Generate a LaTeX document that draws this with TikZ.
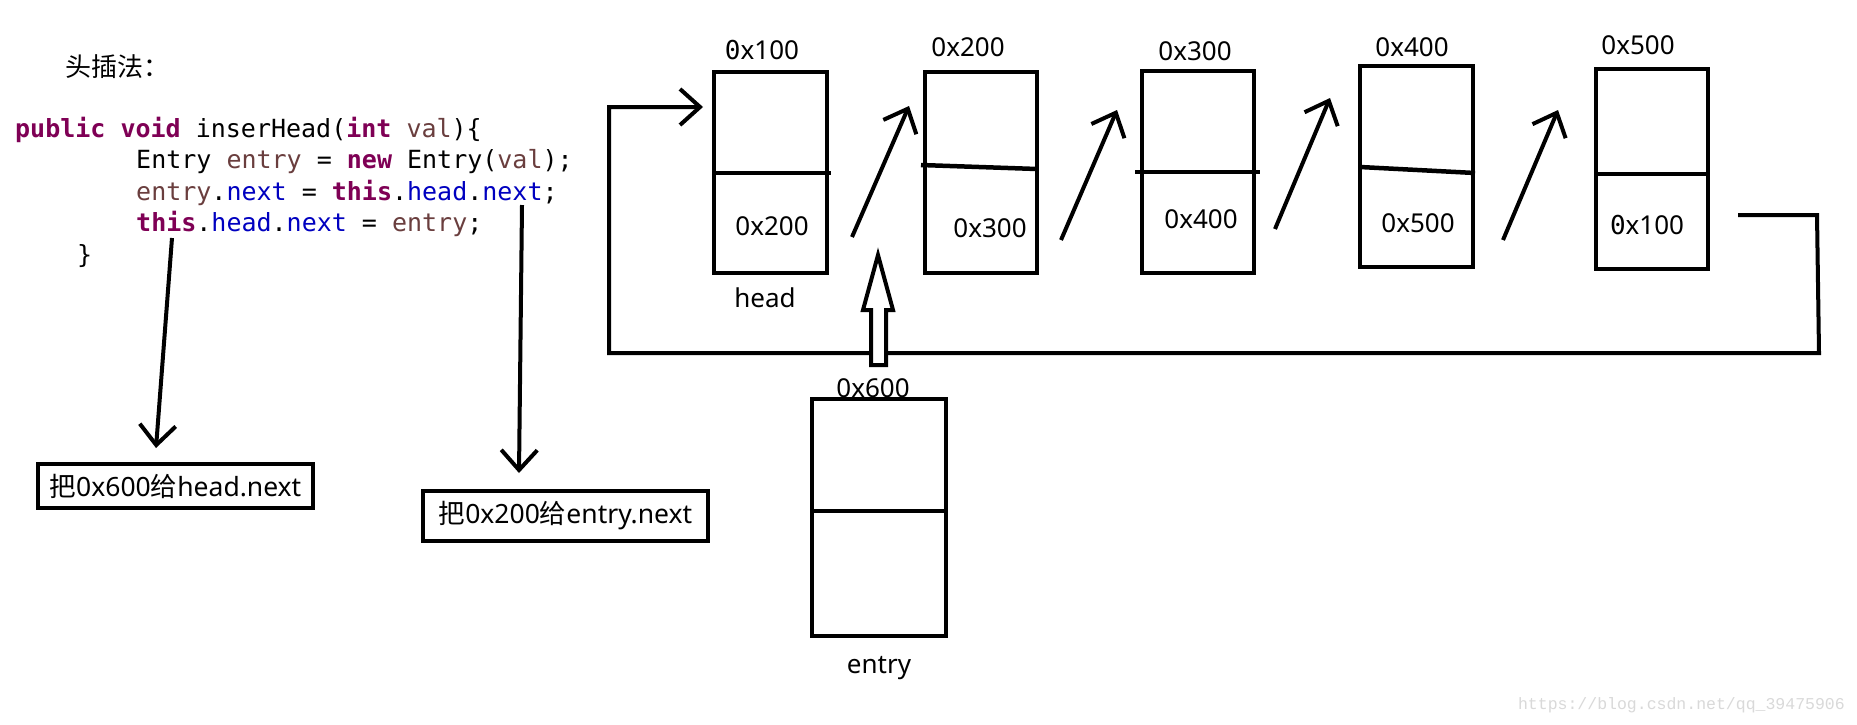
\documentclass[tikz,border=0pt]{standalone}
\usepackage{fontspec}
\setmainfont{Noto Sans}
\setmonofont{DejaVu Sans Mono}
\newfontfamily\cjk{Noto Sans CJK SC}
\newfontfamily\wmfont{Liberation Mono}
\usetikzlibrary{arrows.meta}
\definecolor{kwc}{HTML}{7F0055}
\definecolor{vrc}{HTML}{6A3E3E}
\definecolor{fdc}{HTML}{0000C0}
\definecolor{wmgray}{HTML}{D9D9D9}
\newcommand\myfs[1]{\fontsize{#1}{#1}\selectfont}
\newcommand\ckw[1]{\textcolor{kwc}{\bfseries #1}}
\newcommand\cvr[1]{\textcolor{vrc}{#1}}
\newcommand\cfd[1]{\textcolor{fdc}{#1}}
\begin{document}
\begin{tikzpicture}[x=1pt,y=-1pt,
  cell/.style={draw, line width=4.5pt, minimum width=113pt, minimum height=201pt, inner sep=0pt},
  divline/.style={line width=4.5pt},
  arr/.style={line width=4pt, -{Straight Barb[length=20pt,width=36pt]}},
  code/.style={anchor=base west, inner sep=0pt, font={\ttfamily\myfs{25}}},
  lbl/.style={anchor=base, inner sep=0pt, font={\myfs{26}}},
  note/.style={draw, line width=4.5pt, inner sep=0pt, font={\myfs{26.5}}},
]
\fill[white] (0,0) rectangle (1857,724);
\useasboundingbox (0,0) rectangle (1857,724);

% title and code
\node[anchor=west, inner sep=0pt, font={\cjk\myfs{26}}] (title) at (65,67) {头插法：};
\node[code] (l1) at (15,137) {\ckw{public void} inserHead(\ckw{int} \cvr{val})\{};
\node[code] (l2) at (136,168.5) {Entry \cvr{entry} = \ckw{new} Entry(\cvr{val});};
\node[code] (l3) at (136,200) {\cvr{entry}.\cfd{next} = \ckw{this}.\cfd{head}.\cfd{next};};
\node[code] (l4) at (136,231.5) {\ckw{this}.\cfd{head}.\cfd{next} = \cvr{entry};};
\node[code] (l5) at (77,263) {\}};

% notes
\node[note, minimum width=275pt, minimum height=44pt] (na) at (175.5,486) {{\cjk 把}0x600{\cjk 给}head.next};
\node[note, minimum width=285pt, minimum height=50pt] (nb) at (565.5,516) {{\cjk 把}0x200{\cjk 给}entry.next};
\coordinate (ca) at (172,238);
\coordinate (cae) at (156,448);
\coordinate (cb) at (522,205);
\coordinate (cbe) at (519,473);
\draw[arr] (ca) -- (cae);
\draw[arr] (cb) -- (cbe);

% list boxes
\node[cell] (b1) at (770.5,172.5) {};
\node[cell, minimum width=112pt] (b2) at (981,172.5) {};
\node[cell, minimum width=112pt, minimum height=202pt] (b3) at (1198,172) {};
\node[cell] (b4) at (1416.5,166.5) {};
\node[cell, minimum width=112pt, minimum height=200pt] (b5) at (1652,169) {};
\draw[divline] (714,173) -- (831,173);
\draw[divline] (921,165) -- (1037,169);
\draw[divline] (1135,172) -- (1260,172);
\draw[divline] (1360,167) -- (1475,173);
\draw[divline] (1596,174) -- (1710,174);

\node[lbl] (t1) at (762,59) {{\ttfamily 0}x100};
\node[lbl] (t2) at (968,56) {0x200};
\node[lbl] (t3) at (1195,60) {0x300};
\node[lbl] (t4) at (1412,56) {0x400};
\node[lbl] (t5) at (1638,54) {0x500};
\node[lbl] (v1) at (772,235) {0x200};
\node[lbl] (v2) at (990,237) {0x300};
\node[lbl] (v3) at (1201,228) {0x400};
\node[lbl] (v4) at (1418,232) {0x500};
\node[lbl] (v5) at (1647,234) {{\ttfamily 0}x100};
\node[lbl] (hd) at (765,307) {head};

% next arrows
\coordinate (a1s) at (852,237); \coordinate (a1e) at (909,106);
\coordinate (a2s) at (1061,240); \coordinate (a2e) at (1117,110);
\coordinate (a3s) at (1275,229); \coordinate (a3e) at (1330,98);
\coordinate (a4s) at (1503,240); \coordinate (a4e) at (1558,110);
\draw[arr] (a1s) -- (a1e);
\draw[arr] (a2s) -- (a2e);
\draw[arr] (a3s) -- (a3e);
\draw[arr] (a4s) -- (a4e);

% loop back
\coordinate (lps) at (1738,215);
\coordinate (lpe) at (703,107);
\draw[arr, line join=miter] (lps) -- (1817,215) -- (1819,353) -- (609,353) -- (609,107) -- (lpe);

% entry box
\node[cell, minimum width=134pt, minimum height=237pt] (eb) at (879,517.5) {};
\draw[divline] (812,511) -- (946,511);
\node[lbl] (t6) at (873,397) {0x600};
\node[lbl] (en) at (879,673) {entry};

% hollow arrow
\draw[line width=4pt, fill=white, line join=miter] (878,255) -- (893,310) -- (886,310) -- (886,365) -- (871,365) -- (871,310) -- (863,310) -- cycle;

% watermark
\node[anchor=base east, inner sep=0pt, text=wmgray, font={\wmfont\myfs{16.5}}] (wm) at (1845,709) {https://blog.csdn.net/qq\_39475906};
\end{tikzpicture}
\end{document}
